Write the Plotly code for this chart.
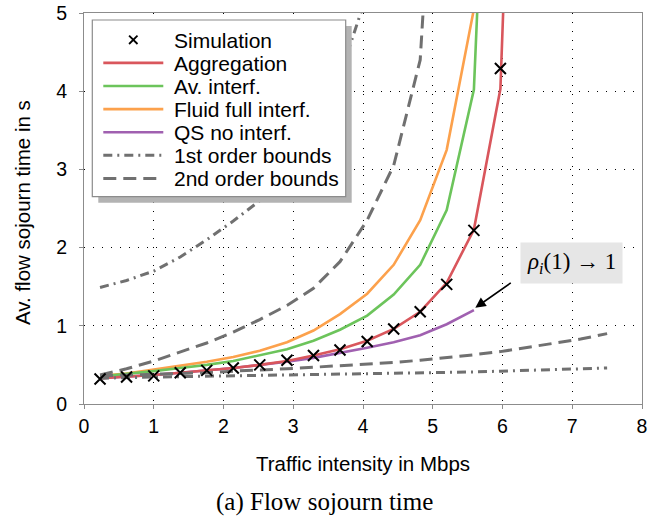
import plotly.graph_objects as go

# ---------------- data ----------------
x_grid = [0.23, 0.61, 1.0, 1.38, 1.76, 2.14, 2.52, 2.91, 3.29, 3.67,
          4.06, 4.44, 4.82, 5.2, 5.59, 5.97, 6.35, 6.73, 7.12, 7.5]

sim_y = [0.32, 0.345, 0.36, 0.40, 0.43, 0.46, 0.50, 0.56, 0.62, 0.69,
         0.80, 0.96, 1.18, 1.53, 2.22, 4.29]

aggregation_y = [0.33, 0.35, 0.37, 0.40, 0.43, 0.46, 0.50, 0.55, 0.62, 0.70,
                 0.81, 0.96, 1.18, 1.55, 2.23, 4.03, 13.5]
av_interf_y = [0.35, 0.38, 0.42, 0.46, 0.50, 0.55, 0.62, 0.70, 0.81, 0.95,
               1.13, 1.40, 1.78, 2.48, 4.02, 12.0]
fluid_full_y = [0.36, 0.39, 0.44, 0.49, 0.54, 0.60, 0.68, 0.79, 0.94, 1.15,
                1.41, 1.78, 2.35, 3.25, 5.05]
qs_no_interf_y = [0.33, 0.35, 0.37, 0.40, 0.43, 0.46, 0.50, 0.54, 0.59, 0.65,
                  0.72, 0.79, 0.88, 1.02, 1.20]

first_upper_y = [1.49, 1.58, 1.70, 1.88, 2.10, 2.34, 2.60, 2.98, 3.50, 4.20, 5.25]
first_lower_y = [0.33, 0.34, 0.345, 0.35, 0.355, 0.36, 0.365, 0.37, 0.375, 0.38,
                 0.385, 0.39, 0.395, 0.40, 0.41, 0.42, 0.43, 0.44, 0.45, 0.46]
second_upper_y = [0.37, 0.45, 0.55, 0.67, 0.78, 0.92, 1.08, 1.26, 1.48, 1.82,
                  2.35, 3.05, 4.4, 10.0]
second_lower_y = [0.36, 0.37, 0.38, 0.39, 0.40, 0.42, 0.43, 0.45, 0.47, 0.49,
                  0.51, 0.53, 0.56, 0.59, 0.63, 0.67, 0.72, 0.77, 0.83, 0.90]

x_ticks = [0, 1, 2, 3, 4, 5, 6, 7, 8]
y_ticks = [0, 1, 2, 3, 4, 5]

legend_labels = ["Simulation", "Aggregation", "Av. interf.", "Fluid full interf.",
                 "QS no interf.", "1st order bounds", "2nd order bounds"]

# ---------------- styles ----------------
RED = "#d9565c"
GREEN = "#6cc45b"
ORANGE = "#fca14c"
PURPLE = "#a060b0"
GRAY = "#707070"
DASHDOT = "9px,5px,2px,5px"
DASHED = "13px,7px"
SANS = "Liberation Sans"

fig = go.Figure()

def line(xs, ys, color, name, width=2.6, dash="solid"):
    n = len(ys)
    fig.add_trace(go.Scatter(x=xs[:n], y=ys, mode="lines", name=name,
                             line=dict(color=color, width=width, dash=dash)))

line(x_grid, fluid_full_y, ORANGE, legend_labels[3])
line(x_grid, av_interf_y, GREEN, legend_labels[2])
line(x_grid, qs_no_interf_y, PURPLE, legend_labels[4])
line(x_grid, aggregation_y, RED, legend_labels[1])
line(x_grid, first_upper_y, GRAY, legend_labels[5], 3, DASHDOT)
line(x_grid, first_lower_y, GRAY, legend_labels[5], 3, DASHDOT)
line(x_grid, second_upper_y, GRAY, legend_labels[6], 3, DASHED)
line(x_grid, second_lower_y, GRAY, legend_labels[6], 3, DASHED)

fig.add_trace(go.Scatter(x=x_grid[:len(sim_y)], y=sim_y, mode="markers",
                         name=legend_labels[0],
                         marker=dict(symbol="x-thin", size=11,
                                     line=dict(width=2, color="black"))))

# ---------------- layout ----------------
SX0, SX1, SY0, SY1 = 84, 642, 13, 404      # plot area in window pixels
W, H = 670, 518
L, T = SX0, SY0
R, B = W - SX1, H - SY1

def PX(px):
    return (px - SX0) / (SX1 - SX0)

def PY(py):
    return (SY1 - py) / (SY1 - SY0)

axis_common = dict(showgrid=True, gridcolor="black", griddash="1px,8px", gridwidth=1,
                   showline=True, mirror=True, linecolor="#8c8c8c", linewidth=1.2,
                   ticks="outside", ticklen=4, tickcolor="#8c8c8c",
                   tickfont=dict(size=19.5, color="black", family=SANS),
                   zeroline=False, automargin=False)

fig.update_layout(
    width=W, height=H,
    margin=dict(l=L, r=R, t=T, b=B, autoexpand=False),
    plot_bgcolor="white", paper_bgcolor="white",
    showlegend=False,
    font=dict(family=SANS, color="black"),
    xaxis=dict(range=[0, 8], tickvals=x_ticks, **axis_common,
               title=dict(text="Traffic intensity in Mbps",
                          font=dict(size=20.5, family=SANS), standoff=21)),
    yaxis=dict(range=[0, 5], tickvals=y_ticks, ticklabelstandoff=8, **axis_common),
)

# ---------------- manual legend ----------------
shapes = []
shapes.append(dict(type="rect", xref="paper", yref="paper", layer="above",
                   x0=PX(98.3), x1=PX(351.7), y0=PY(202.7), y1=PY(26),
                   fillcolor="#b3b3b3", line=dict(width=0)))
shapes.append(dict(type="rect", xref="paper", yref="paper", layer="above",
                   x0=PX(92.3), x1=PX(345.7), y0=PY(196.7), y1=PY(20),
                   fillcolor="white", line=dict(color="#8c8c8c", width=1.2)))

row0, step = 39.8, 23.1
rows = [row0 + step * i for i in range(len(legend_labels))]
sample_styles = [None,
                 (RED, 2.6, "solid"), (GREEN, 2.6, "solid"), (ORANGE, 2.6, "solid"),
                 (PURPLE, 2.6, "solid"), (GRAY, 3, DASHDOT), (GRAY, 3, DASHED)]
for r, st in zip(rows, sample_styles):
    if st is None:
        cx, s = 133.3, 4.2
        for dx0, dx1 in ((-s, s), (s, -s)):
            shapes.append(dict(type="line", xref="paper", yref="paper", layer="above",
                               x0=PX(cx + dx0), x1=PX(cx + dx1), y0=PY(r - s), y1=PY(r + s),
                               line=dict(color="black", width=1.8)))
    else:
        c, w, d = st
        shapes.append(dict(type="line", xref="paper", yref="paper", layer="above",
                           x0=PX(103.3), x1=PX(163.3), y0=PY(r), y1=PY(r),
                           line=dict(color=c, width=w, dash=d)))

annotations = []
for r, lab in zip(rows, legend_labels):
    annotations.append(dict(text=lab, xref="paper", yref="paper", x=PX(171.5), y=PY(r + 0.5),
                            xanchor="left", yanchor="middle", showarrow=False,
                            font=dict(size=21, family=SANS, color="black")))

# y-axis title
annotations.append(dict(text="Av. flow sojourn time in s", xref="paper", yref="paper",
                        x=PX(23), y=PY(213), xanchor="center", yanchor="middle",
                        textangle=-90, showarrow=False,
                        font=dict(size=20.5, family=SANS, color="black")))

annotations.append(dict(text="<i>ρ</i><sub><i>i</i></sub>(1) → 1",
                        xref="paper", yref="paper", x=PX(571), y=PY(262.5),
                        xanchor="center", yanchor="middle", showarrow=False,
                        bgcolor="#e6e6e6", borderpad=6,
                        font=dict(size=23, family="Liberation Serif", color="black")))
annotations.append(dict(text="", x=5.61, y=1.23, xref="x", yref="y",
                        ax=37, ay=-26, showarrow=True, arrowhead=2, arrowsize=1.3,
                        arrowwidth=1.6, arrowcolor="black"))
annotations.append(dict(text="(a) Flow sojourn time", xref="paper", yref="paper",
                        x=PX(324), y=PY(502), xanchor="center", yanchor="middle",
                        showarrow=False,
                        font=dict(size=25, family="Liberation Serif", color="black")))

fig.update_layout(shapes=shapes, annotations=annotations)

# remove the default 8px page margin so the 670x518 figure fills the window
fig.write_html("out.html", config={"displayModeBar": False},
               post_script="document.body.style.margin='0';document.body.style.overflow='hidden';")
